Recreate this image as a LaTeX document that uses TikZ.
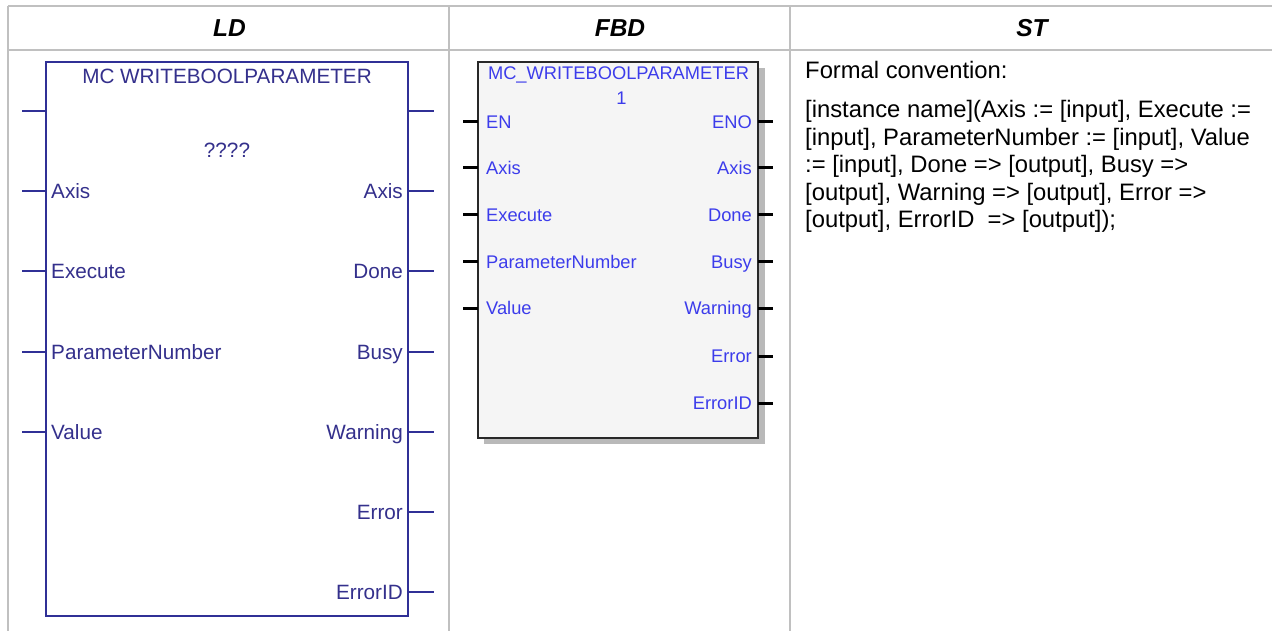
\documentclass[tikz,border=0pt]{standalone}
\usepackage{fontspec}
\setmainfont{Liberation Sans}
\definecolor{gridc}{RGB}{192,192,192}
\definecolor{ldblue}{RGB}{48,48,150}
\definecolor{ldtext}{RGB}{52,48,140}
\definecolor{fbdtext}{RGB}{60,60,235}
\definecolor{fbdfill}{RGB}{245,245,245}
\definecolor{fbdshadow}{RGB}{185,185,185}
\definecolor{fbdline}{RGB}{40,40,40}
\begin{document}
\begin{tikzpicture}[x=1pt,y=-1pt,
  gridline/.style={draw=gridc,line width=1.7pt},
  hdr/.style={font=\fontsize{24.5}{28}\selectfont\bfseries\itshape,inner sep=0pt,anchor=base},
  ldline/.style={draw=ldblue,line width=2pt},
  ldpin/.style={draw=ldblue,line width=1.5pt},
  ldlbl/.style={text=ldtext,font=\fontsize{20.7}{24}\selectfont,inner sep=0pt},
  fbdbox/.style={draw=fbdline,line width=2pt,fill=fbdfill},
  fbdpin/.style={draw=black,line width=3pt},
  fbdlbl/.style={text=fbdtext,font=\fontsize{18.3}{22}\selectfont,inner sep=0pt},
  sttext/.style={text=black,font=\fontsize{23.8}{27}\selectfont,inner sep=0pt,anchor=base west}]
\useasboundingbox (0,0) rectangle (1272,631);
\fill[white] (0,0) rectangle (1272,631);
% table grid
\draw[gridline] (8,6) -- (1272,6);
\draw[gridline] (8,50) -- (1272,50);
\draw[gridline] (8,6) -- (8,631);
\draw[gridline] (449,6) -- (449,631);
\draw[gridline] (790,6) -- (790,631);
% headers
\node[hdr] (hLD) at (229.5,36.5) {LD};
\node[hdr] (hFBD) at (620,36.5) {FBD};
\node[hdr] (hST) at (1032,36.5) {ST};
% ---------------- LD ----------------
\draw[ldline] (46,62) rectangle (408,616);
\node[ldlbl,anchor=base] (ldtitle) at (227,84) {MC WRITEBOOLPARAMETER};
\node[ldlbl,anchor=base] (ldinst) at (227,158) {????};
\foreach \n/\y in {a/111,b/191,c/271,d/352,e/432}{
  \coordinate (ldLo\n) at (22,\y);
  \coordinate (ldLi\n) at (46,\y);
  \draw[ldpin] (ldLo\n) -- (ldLi\n);
}
\foreach \n/\y in {a/111,b/191,c/271,d/352,e/432,f/512,g/592}{
  \coordinate (ldRi\n) at (408,\y);
  \coordinate (ldRo\n) at (434,\y);
  \draw[ldpin] (ldRi\n) -- (ldRo\n);
}
\foreach \n/\y/\l in {b/191/Axis,c/271/Execute,d/352/ParameterNumber,e/432/Value}{
  \node[ldlbl,anchor=base west] (ldLt\n) at (51,\y+7.3) {\l};
}
\foreach \n/\y/\l in {b/191/Axis,c/271/Done,d/352/Busy,e/432/Warning,f/512/Error,g/592/ErrorID}{
  \node[ldlbl,anchor=base east] (ldRt\n) at (403,\y+7.3) {\l};
}
% ---------------- FBD ----------------
\fill[fbdshadow] (484,68) rectangle (765,444);
\draw[fbdbox] (478,62) rectangle (758,438);
\node[fbdlbl,anchor=base] (fbdtitle) at (618.5,80) {MC\_WRITEBOOLPARAMETER};
\node[fbdlbl,anchor=base] (fbdinst) at (621.5,105) {1};
\foreach \n/\y/\l in {a/122/EN,b/168/Axis,c/215/Execute,d/262/ParameterNumber,e/308/Value}{
  \coordinate (fbLo\n) at (463,\y);
  \coordinate (fbLi\n) at (478,\y);
  \draw[fbdpin] (fbLo\n) -- (fbLi\n);
  \node[fbdlbl,anchor=base west] (fbLt\n) at (486,\y+6.5) {\l};
}
\foreach \n/\y/\l in {a/122/ENO,b/168/Axis,c/215/Done,d/262/Busy,e/308/Warning,f/356/Error,g/403/ErrorID}{
  \coordinate (fbRi\n) at (758,\y);
  \coordinate (fbRo\n) at (773,\y);
  \draw[fbdpin] (fbRi\n) -- (fbRo\n);
  \node[fbdlbl,anchor=base east] (fbRt\n) at (752,\y+6.5) {\l};
}
% ---------------- ST ----------------
\node[sttext] (st0) at (805,79) {Formal convention:};
\node[sttext] (st1) at (805,117.5) {[instance name](Axis := [input], Execute :=};
\node[sttext] (st2) at (805,145.2) {[input], ParameterNumber := [input], Value};
\node[sttext] (st3) at (805,172.8) {:= [input], Done => [output], Busy =>};
\node[sttext] (st4) at (805,200.4) {[output], Warning => [output], Error =>};
\node[sttext] (st5) at (805,228) {[output], ErrorID\ \ => [output]);};
\end{tikzpicture}
\end{document}
